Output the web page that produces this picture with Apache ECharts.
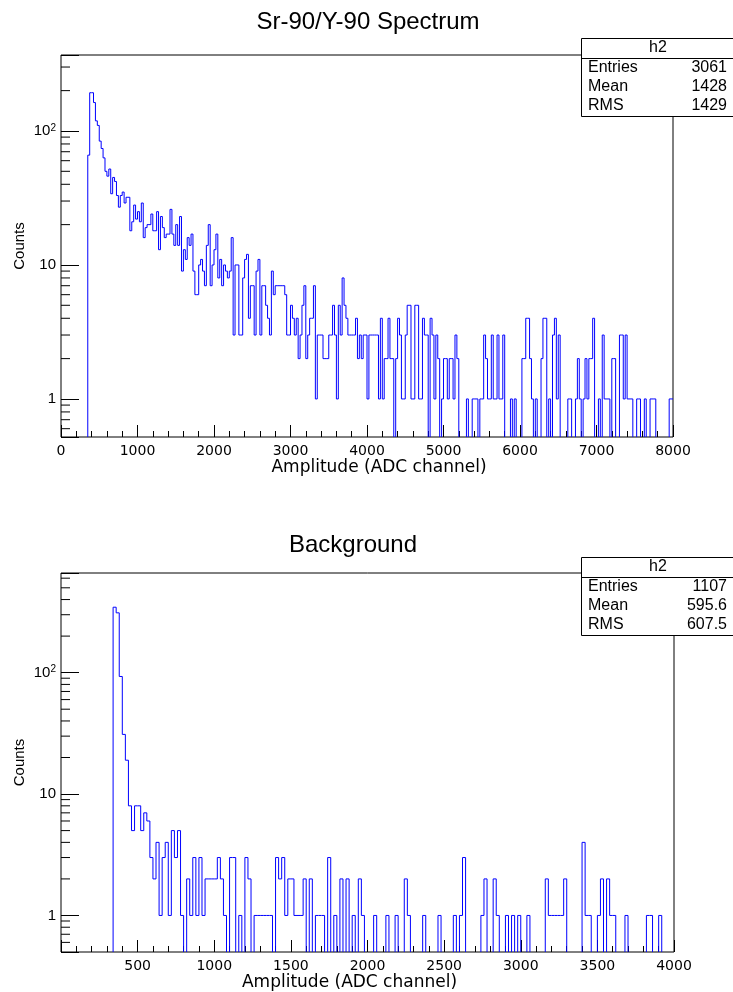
<!DOCTYPE html>
<html>
<head>
<meta charset="utf-8">
<title>Sr-90/Y-90 Spectrum</title>
<script src="https://cdn.jsdelivr.net/npm/echarts@6/dist/echarts.min.js"></script>
<style>
  html, body { margin: 0; padding: 0; background: #fff; }
  #chart { width: 733px; height: 992px; }
</style>
</head>
<body>
<div id="chart"></div>
<script>
// Sr-90/Y-90 spectrum, 320 bins of 25 ADC channels (0..8000)
const srBinWidth = 25;
const srCounts = [
  0,0,0,0,0,0,0,0,0,0,0,0,0,0,
  66,193,193,163,119,110,84,74,63,50,
  46,52,34,45,42,33,27,33,35,29,
  32,32,18,21,28,22,25,21,29,16,
  19,20,20,24,18,18,25,13,23,19,
  16,17,17,26,17,14,20,14,23,9,
  13,11,16,14,17,9,6,6,10,11,
  9,7,14,20,7,10,13,17,8,11,
  7,10,9,8,9,16,
  3,10,10,3,3,8,11,12,4,7,
  7,3,9,11,3,7,7,5,4,3,
  9,6,7,7,7,7,7,6,3,3,
  5,4,3,4,2,3,5,7,2,3,
  4,4,7,1,3,3,3,2,2,2,
  3,3,5,3,1,5,3,8,5,4,
  3,3,3,3,4,2,3,2,3,3,
  1,3,3,3,3,
  3,1,4,1,2,2,4,2,2,0,
  2,4,3,1,1,3,5,5,1,1,
  5,5,1,1,4,3,3,0,4,3,
  1,3,2,0,1,2,2,1,2,2,
  1,3,2,0,0,0,0,1,0,0,
  1,1,1,0,1,1,3,2,1,1,
  3,1,1,3,1,
  1,3,0,0,0,1,0,1,0,0,
  0,2,2,4,4,2,1,0,1,0,
  0,2,4,4,0,1,0,3,4,1,
  3,0,0,0,0,1,1,0,0,1,
  2,1,0,1,2,1,2,2,4,0,
  0,1,0,3,1,1,1,0,2,2,
  0,0,3,3,1,3,1,1,1,0,
  0,1,1,0,0,1,0,0,1,1,
  1,0,0,0,0,0,0,0,1,1
];
const srStats = [["Entries", "3061"], ["Mean", "1428"], ["RMS", "1429"]];

// background run, 200 bins of 20 ADC channels (0..4000)
const bgBinWidth = 20;
const bgCounts = [
  0,0,0,0,0,0,0,0,0,0,0,0,0,0,0,0,0,
  346,311,93,31,19,8,5,8,8,5,7,6,3,2,4,1,3,4,1,5,3,5,1,
  0,2,1,3,1,3,1,2,2,2,2,3,2,1,0,3,3,0,1,0,3,2,0,
  1,1,1,1,1,1,0,3,2,3,1,2,2,1,1,1,2,0,2,0,1,1,1,0,3,0,1,0,2,0,2,0,1,0,2,1,
  0,0,0,1,0,0,0,1,0,0,
  1,0,0,2,1,0,0,0,0,1,
  0,0,0,0,1,0,0,0,0,1,
  0,1,3,0,0,0,0,0,1,2,
  0,0,2,1,0,0,1,0,1,0,
  1,0,0,1,0,0,0,0,0,2,
  1,1,1,1,1,2,0,0,0,0,
  0,4,1,1,0,0,1,2,0,2,
  1,1,0,0,0,1,0,0,0,0,
  0,0,1,1,0,0,1,0,0,0,0
];
const bgStats = [["Entries", "1107"], ["Mean", "595.6"], ["RMS", "607.5"]];

// axis ranges and tick steps
const srXRange = [0, 8000], srXStep = 1000;
const bgXRange = [0, 4000], bgXStep = 500;
const srYRange = [0.52, 369];
const bgYRange = [0.5, 662];
const logMinorTicks = [0.6, 0.7, 0.8, 0.9, 2, 3, 4, 5, 6, 7, 8, 9,
  20, 30, 40, 50, 60, 70, 80, 90, 200, 300, 400, 500, 600];

const chart = echarts.init(document.getElementById("chart"));

// one item per bin: [low edge, high edge, previous bin content, content]
function bins(counts, w) {
  return counts.map((c, i) => [i * w, (i + 1) * w, i > 0 ? counts[i - 1] : 0, c]);
}

function logLabel(v) {
  const l = Math.log10(v);
  const e = Math.round(l);
  if (Math.abs(l - e) > 1e-6) return "";
  if (e === 0) return "1";
  if (e === 1) return "10";
  return "10{sup|" + e + "}";
}

function xAxis(idx, range, step) {
  return {
    type: "value", gridIndex: idx, min: range[0], max: range[1], interval: step,
    name: "Amplitude (ADC channel)", nameLocation: "middle", nameGap: 22,
    nameTextStyle: {
      fontFamily: "DejaVu Sans", fontSize: 17, color: "#000",
      padding: idx === 0 ? [0, 0, 0, 24] : [0, 36, 0, 0]
    },
    axisLine: { show: false },
    axisTick: { inside: true, length: 12, lineStyle: { color: "#000" } },
    minorTick: { show: true, splitNumber: 5, length: 6, lineStyle: { color: "#000" } },
    axisLabel: {
      fontFamily: "DejaVu Sans", fontSize: 14, color: "#000", margin: 7,
      showMinLabel: true, showMaxLabel: true,
      formatter: v => (idx === 1 && v === 0 ? "" : String(v))
    },
    splitLine: { show: false }
  };
}

function yAxis(idx, range) {
  return {
    type: "log", logBase: 10, gridIndex: idx, min: range[0], max: range[1],
    name: "Counts", nameLocation: "middle", nameGap: 34, nameRotate: 90,
    nameMoveOverlap: false,
    nameTextStyle: { fontFamily: "Liberation Sans", fontSize: 15, color: "#000" },
    axisLine: { show: false },
    axisTick: { inside: true, length: 18, lineStyle: { color: "#000" } },
    axisLabel: {
      fontFamily: "Liberation Sans", fontSize: 15, color: "#000", margin: 5,
      formatter: logLabel,
      rich: { sup: { fontFamily: "Liberation Sans", fontSize: 10, color: "#000", verticalAlign: "top", padding: [0, 0, 6, 0] } }
    },
    splitLine: { show: false }
  };
}

// ROOT style outline: rise/fall at the low edge, then flat top over the bin;
// empty bins fall below the log frame, so only their edge down to the frame is drawn
function histSeries(idx, counts, w, range) {
  return {
    type: "custom", xAxisIndex: idx, yAxisIndex: idx, silent: true,
    encode: { x: [0, 1], y: 3 },
    data: bins(counts, w),
    renderItem: (params, api) => {
      const x0 = api.value(0), x1 = api.value(1);
      const cp = api.value(2), c = api.value(3);
      if (cp <= 0 && c <= 0) return null;
      const a = api.coord([x0, Math.max(cp, range[0])]);
      const b = api.coord([x0, Math.max(c, range[0])]);
      const pts = c > 0 ? [a, b, api.coord([x1, c])] : [a, b];
      return {
        type: "polyline",
        shape: { points: pts },
        style: { stroke: "#0000ff", lineWidth: 1, fill: null }
      };
    }
  };
}

// short log ticks (2..9 per decade)
function minorTickSeries(idx, xMin, range) {
  return {
    type: "custom", xAxisIndex: idx, yAxisIndex: idx, silent: true,
    data: logMinorTicks.filter(v => v > range[0] && v < range[1]).map(v => [xMin, v]),
    renderItem: (params, api) => {
      const p = api.coord([api.value(0), api.value(1)]);
      return {
        type: "line",
        shape: { x1: p[0], y1: p[1], x2: p[0] + 9, y2: p[1] },
        style: { stroke: "#000", lineWidth: 1 }
      };
    }
  };
}

function txt(x, y, text, size, align) {
  return {
    type: "text", x: x, y: y, z: 60,
    style: {
      text: text, font: size + 'px "Liberation Sans"', fill: "#000",
      align: align, verticalAlign: "middle", textAlign: align, textVerticalAlign: "middle"
    }
  };
}

function statsBox(y0, rows) {
  const els = [
    { type: "rect", z: 50, shape: { x: 581.5, y: y0 + 0.5, width: 160, height: 78 },
      style: { fill: "#fff", stroke: "#000", lineWidth: 1 } },
    { type: "line", z: 55, shape: { x1: 581.5, y1: y0 + 20.5, x2: 742, y2: y0 + 20.5 },
      style: { stroke: "#000", lineWidth: 1 } },
    txt(658, y0 + 10, "h2", 16, "center")
  ];
  rows.forEach((r, i) => {
    els.push(txt(588, y0 + 30 + i * 19, r[0], 16, "left"));
    els.push(txt(727, y0 + 30 + i * 19, r[1], 16, "right"));
  });
  return els;
}

const option = {
  animation: false,
  backgroundColor: "#fff",
  grid: [
    { left: 61, top: 55, width: 612, height: 382, show: true, borderColor: "#000", borderWidth: 1 },
    { left: 61, top: 573, width: 613, height: 384, show: true, borderColor: "#000", borderWidth: 1 }
  ],
  xAxis: [xAxis(0, srXRange, srXStep), xAxis(1, bgXRange, bgXStep)],
  yAxis: [yAxis(0, srYRange), yAxis(1, bgYRange)],
  series: [
    histSeries(0, srCounts, srBinWidth, srYRange),
    histSeries(1, bgCounts, bgBinWidth, bgYRange),
    minorTickSeries(0, srXRange[0], srYRange),
    minorTickSeries(1, bgXRange[0], bgYRange)
  ],
  graphic: [
    txt(368, 22, "Sr-90/Y-90 Spectrum", 24, "center"),
    txt(353, 545, "Background", 24, "center")
  ].concat(statsBox(38, srStats), statsBox(557, bgStats))
};
chart.setOption(option);
</script>
</body>
</html>
